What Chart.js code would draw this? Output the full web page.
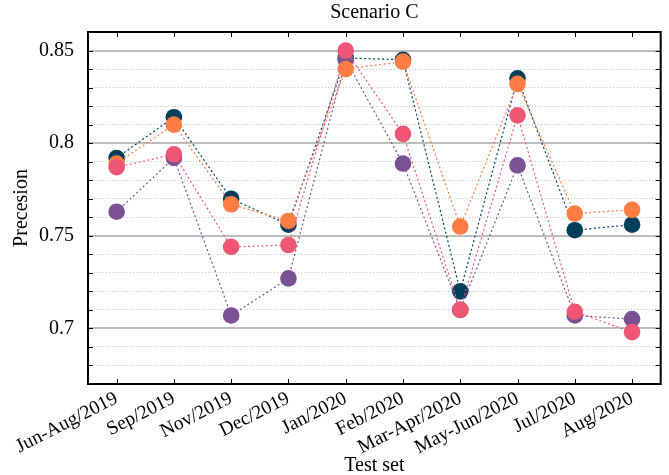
<!DOCTYPE html>
<html>
<head>
<meta charset="utf-8">
<script src="https://cdn.jsdelivr.net/npm/chart.js@4"></script>
<style>
html,body{margin:0;padding:0;background:#fff;}
#wrap{width:669px;height:475px;}
</style>
</head>
<body>
<div id="wrap"><canvas id="c" width="669" height="475"></canvas></div>
<script>
const categories = ["Jun-Aug/2019","Sep/2019","Nov/2019","Dec/2019","Jan/2020","Feb/2020","Mar-Apr/2020","May-Jun/2020","Jul/2020","Aug/2020"];
const seriesNavy   = [0.792, 0.814, 0.770, 0.756, 0.846, 0.845, 0.720, 0.835, 0.753, 0.756];
const seriesPurple = [0.763, 0.792, 0.707, 0.727, 0.845, 0.789, 0.710, 0.788, 0.707, 0.705];
const seriesOrange = [0.789, 0.810, 0.767, 0.758, 0.840, 0.844, 0.755, 0.832, 0.762, 0.764];
const seriesPink   = [0.787, 0.794, 0.744, 0.745, 0.850, 0.805, 0.710, 0.815, 0.709, 0.698];
const majorTicks = [0.7, 0.75, 0.8, 0.85];
const minorTicks = [0.68, 0.69, 0.70, 0.71, 0.72, 0.73, 0.74, 0.75, 0.76, 0.77, 0.78, 0.79, 0.80, 0.81, 0.82, 0.83, 0.84, 0.85];
const yMin = 0.67, yMax = 0.86;

const FONT = 'Liberation Serif';
const font20 = {family: FONT, size: 20, weight: 'normal'};
const fontTick = {family: FONT, size: 19.5, weight: 'normal'};

function ds(label, data, color){
  return {
    label, data,
    borderColor: color, backgroundColor: color,
    borderWidth: 1.2, borderDash: [2, 2.5],
    pointRadius: 8.3, pointHoverRadius: 8.3,
    pointBackgroundColor: color, pointBorderColor: color, pointBorderWidth: 0,
    tension: 0, fill: false
  };
}

const framePlugin = {
  id: 'frame',
  afterDraw(chart){
    const {ctx, chartArea: a, scales} = chart;
    const xs = scales.x, ys = scales.yMinor;
    ctx.save();
    ctx.strokeStyle = '#000';
    ctx.lineWidth = 1;
    ctx.beginPath();
    minorTicks.forEach(v => {
      const y = Math.round(ys.getPixelForValue(v)) + 0.5;
      ctx.moveTo(a.left, y); ctx.lineTo(a.left + 5, y);
      ctx.moveTo(a.right - 5, y); ctx.lineTo(a.right, y);
    });
    categories.forEach((c, i) => {
      const x = Math.round(xs.getPixelForValue(i)) + 0.5;
      ctx.moveTo(x, a.top); ctx.lineTo(x, a.top + 5);
      ctx.moveTo(x, a.bottom - 5); ctx.lineTo(x, a.bottom);
    });
    ctx.stroke();
    ctx.lineWidth = 2;
    ctx.strokeRect(a.left, a.top, a.right - a.left, a.bottom - a.top);
    ctx.restore();
  }
};

new Chart(document.getElementById('c'), {
  type: 'line',
  data: {
    labels: categories,
    datasets: [
      ds('Series 4', seriesPink, '#ef5675'),
      ds('Series 3', seriesOrange, '#ff7c43'),
      ds('Series 2', seriesPurple, '#7a5195'),
      ds('Series 1', seriesNavy, '#003f5c')
    ]
  },
  options: {
    responsive: false,
    animation: false,
    layout: {padding: {left: 0, right: 7, top: 0, bottom: 0}},
    plugins: {
      legend: {display: false},
      tooltip: {enabled: false},
      title: {
        display: true, text: 'Scenario C', fullSize: false,
        font: font20, color: '#000',
        padding: {top: 1, bottom: 7}
      }
    },
    scales: {
      x: {
        type: 'category', offset: true,
        grid: {display: false, drawTicks: false},
        border: {display: false},
        ticks: {font: fontTick, color: '#000', minRotation: 27, maxRotation: 27, padding: 3, autoSkip: false},
        title: {display: true, text: 'Test set', font: font20, color: '#000', padding: {top: 0, bottom: -3}},
        afterFit(s){ s.height = 91; }
      },
      y: {
        position: 'left', min: yMin, max: yMax,
        afterBuildTicks(s){ s.ticks = majorTicks.map(v => ({value: v})); },
        grid: {color: '#bbbbbb', lineWidth: 2, drawTicks: false},
        border: {display: false},
        ticks: {font: font20, color: '#000', padding: 14, callback: v => String(v)},
        title: {display: true, text: 'Precesion', font: font20, color: '#000', padding: {top: 10, bottom: 0}},
        afterFit(s){ s.width = 88; }
      },
      yMinor: {
        position: 'left', min: yMin, max: yMax, z: -1,
        afterBuildTicks(s){ s.ticks = minorTicks.map(v => ({value: v})); },
        grid: {color: '#c8c8c8', lineWidth: 1, drawTicks: false},
        border: {display: false, dash: [1, 2]},
        ticks: {display: false},
        afterFit(s){ s.width = 0; }
      }
    }
  },
  plugins: [framePlugin]
});
</script>
</body>
</html>
